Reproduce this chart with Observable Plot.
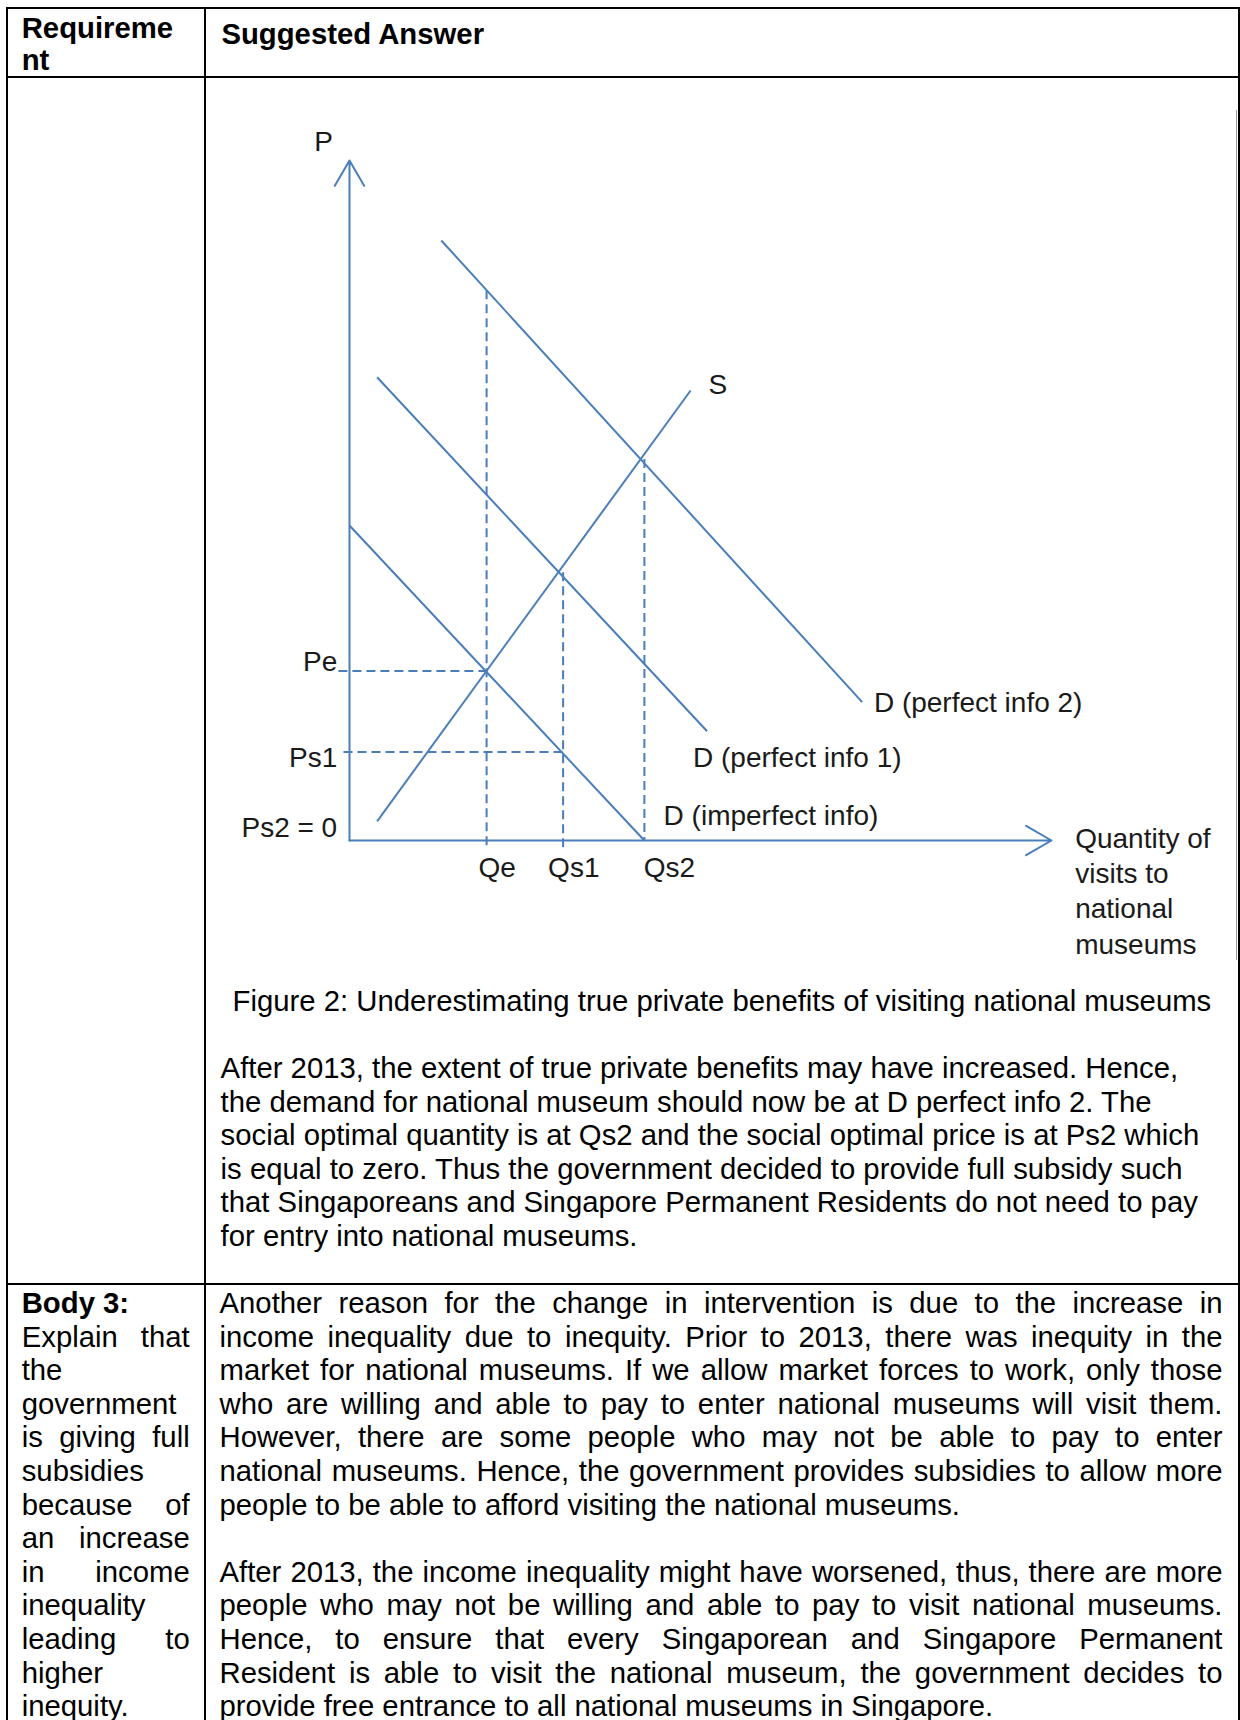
<!DOCTYPE html>
<html>
<head>
<meta charset="utf-8">
<script src="https://cdn.jsdelivr.net/npm/d3@7"></script>
<script src="https://cdn.jsdelivr.net/npm/@observablehq/plot@0.6"></script>
<style>
html, body { margin: 0; padding: 0; background: #fff; }
#page { position: relative; width: 1240px; height: 1720px; overflow: hidden; font-family: "Liberation Sans", Arial, sans-serif; color: #000; }
.rule { position: absolute; background: #000; }
.blk { position: absolute; white-space: nowrap; }
.blk div { white-space: nowrap; }
#chart { position: absolute; left: 206px; top: 90px; }
</style>
</head>
<body>
<div id="page"><div id="chart"></div></div>
<script>
// ---------- Diagram data (P–Q units) ----------
const curveLabels = ["S", "D (imperfect info)", "D (perfect info 1)", "D (perfect info 2)"];
const curveStartQ = [0.92, 0, 0.92, 3.06];
const curveStartP = [0.64, 10.5, 15.44, 20.0];
const curveEndQ = [11.37, 9.83, 11.92, 17.09];
const curveEndP = [15.0, 0, 3.64, 4.61];

const guideNames = ["Qe", "Qs1", "Qs2", "Pe", "Ps1"];
const guideStartQ = [4.57, 7.12, 9.83, -0.37, -0.2];
const guideStartP = [18.34, 8.94, 12.72, 5.65, 2.95];
const guideEndQ = [4.57, 7.12, 9.83, 4.57, 7.12];
const guideEndP = [-0.23, -0.23, 0, 5.65, 2.95];

const axisNames = ["P", "Quantity"];
const axisEndQ = [0, 23.4];
const axisEndP = [22.67, 0];

const labelTexts = ["P", "S", "Pe", "Ps1", "Ps2 = 0", "Qe", "Qs1", "Qs2",
  "D (perfect info 2)", "D (perfect info 1)", "D (imperfect info)",
  "Quantity of\nvisits to\nnational\nmuseums"];
const labelQ = [-0.86, 11.97, -0.41, -0.41, -0.41, 4.3, 6.62, 9.81, 17.48, 11.45, 10.47, 24.19];
const labelP = [22.98, 14.9, 5.64, 2.45, 0.11, -1.23, -1.23, -1.23, 4.27, 2.44, 0.53, -3.77];
const labelAnchor = ["middle", "start", "end", "end", "end", "start", "start", "start", "start", "start", "start", "start"];

// ---------- Document text ----------
const headerLeft = ["Requireme", "nt"];
const headerRight = ["Suggested Answer"];
const caption = "Figure 2: Underestimating true private benefits of visiting national museums";
const row2Para = [
  "After 2013, the extent of true private benefits may have increased. Hence,",
  "the demand for national museum should now be at D perfect info 2. The",
  "social optimal quantity is at Qs2 and the social optimal price is at Ps2 which",
  "is equal to zero. Thus the government decided to provide full subsidy such",
  "that Singaporeans and Singapore Permanent Residents do not need to pay",
  "for entry into national museums."
];
const row3Left = ["Body 3:", "Explain that", "the", "government", "is giving full", "subsidies",
  "because of", "an increase", "in income", "inequality", "leading to", "higher", "inequity."];
const row3LeftJustify = [false, true, false, false, true, false, true, true, true, false, true, false, false];
const row3Right = [
  "Another reason for the change in intervention is due to the increase in",
  "income inequality due to inequity. Prior to 2013, there was inequity in the",
  "market for national museums. If we allow market forces to work, only those",
  "who are willing and able to pay to enter national museums will visit them.",
  "However, there are some people who may not be able to pay to enter",
  "national museums. Hence, the government provides subsidies to allow more",
  "people to be able to afford visiting the national museums.",
  "",
  "After 2013, the income inequality might have worsened, thus, there are more",
  "people who may not be willing and able to pay to visit national museums.",
  "Hence, to ensure that every Singaporean and Singapore Permanent",
  "Resident is able to visit the national museum, the government decides to",
  "provide free entrance to all national museums in Singapore."
];
const row3RightJustify = [true, true, true, true, true, true, false, false, true, true, true, true, false];

// ---------- Page construction ----------
const page = document.getElementById("page");
const FS = 29.3, LH = 33.6;

function rule(x, y, w, h) {
  const d = document.createElement("div");
  d.className = "rule";
  Object.assign(d.style, {left: x + "px", top: y + "px", width: w + "px", height: h + "px"});
  page.appendChild(d);
}
function block(lines, left, baseline, lh, opts = {}) {
  const fs = opts.fontSize || FS;
  const off = (lh - 1.117 * fs) / 2 + 0.905 * fs;
  const b = document.createElement("div");
  b.className = "blk";
  Object.assign(b.style, {left: left + "px", top: (baseline - off) + "px", fontSize: fs + "px", lineHeight: lh + "px"});
  if (opts.width) b.style.width = opts.width + "px";
  page.appendChild(b);
  lines.forEach((t, i) => {
    const d = document.createElement("div");
    d.style.height = lh + "px";
    if ((opts.boldFirst && i === 0) || opts.bold) d.style.fontWeight = "bold";
    const s = document.createElement("span");
    s.textContent = t || "\u00a0";
    d.appendChild(s);
    b.appendChild(d);
    if (opts.justify && opts.justify[i]) {
      const w = s.getBoundingClientRect().width;
      const n = (t.match(/ /g) || []).length;
      if (n) s.style.wordSpacing = ((opts.width - w) / n) + "px";
    }
  });
}

// table rules
const T = 2;
rule(6, 7, 1234, T);          // top
rule(6, 76, 1234, T);         // header bottom
rule(6, 1283, 1234, T);       // row 2 bottom
rule(6, 7, T, 1713);          // left
rule(204, 7, T, 1713);        // divider
rule(1238, 7, T, 1713);       // right
const g = document.createElement("div");
Object.assign(g.style, {position: "absolute", left: "1236px", top: "110px", width: "1px", height: "850px", background: "#9a9a9a"});
page.appendChild(g);

block(headerLeft, 21.7, 38, 32.5, {bold: true});
block(headerRight, 221.4, 44, 32.5, {bold: true});
block([caption], 232.6, 1011, LH);
block(row2Para, 220.6, 1078, LH);
block(row3Left, 21.7, 1313, LH, {boldFirst: true, width: 168, justify: row3LeftJustify});
block(row3Right, 219.5, 1313, LH, {width: 1003, justify: row3RightJustify});

// ---------- Diagram ----------
const blue = "#4a7ebb";
const curves = curveLabels.map((name, i) => ({name, q1: curveStartQ[i], p1: curveStartP[i], q2: curveEndQ[i], p2: curveEndP[i]}));
const guides = guideNames.map((name, i) => ({name, q1: guideStartQ[i], p1: guideStartP[i], q2: guideEndQ[i], p2: guideEndP[i]}));
const axes = axisNames.map((name, i) => ({name, q1: 0, p1: 0, q2: axisEndQ[i], p2: axisEndP[i]}));
const labels = labelTexts.map((text, i) => ({text, q: labelQ[i], p: labelP[i], anchor: labelAnchor[i]}));

const textOpts = {x: "q", y: "p", text: "text", fontSize: 28, lineAnchor: "bottom", lineHeight: 1.26, fill: "#1a1a1a"};

const chart = Plot.plot({
  width: 1030,
  height: 880,
  x: {domain: [0, 29.4], range: [143, 1025], axis: null},
  y: {domain: [0, 25], range: [750, 0], axis: null},
  style: {background: "transparent", overflow: "visible", fontFamily: '"Liberation Sans", Arial, sans-serif'},
  marks: [
    Plot.link(guides, {x1: "q1", y1: "p1", x2: "q2", y2: "p2", stroke: blue, strokeWidth: 2, strokeDasharray: "9,5"}),
    Plot.link(curves, {x1: "q1", y1: "p1", x2: "q2", y2: "p2", stroke: blue, strokeWidth: 2}),
    Plot.arrow(axes, {x1: "q1", y1: "p1", x2: "q2", y2: "p2", stroke: blue, strokeWidth: 2, headLength: 22, headAngle: 60}),
    Plot.text(labels.filter(d => d.anchor === "start"), {...textOpts, textAnchor: "start"}),
    Plot.text(labels.filter(d => d.anchor === "end"), {...textOpts, textAnchor: "end"}),
    Plot.text(labels.filter(d => d.anchor === "middle"), {...textOpts, textAnchor: "middle"})
  ]
});
document.getElementById("chart").appendChild(chart);
</script>
</body>
</html>
